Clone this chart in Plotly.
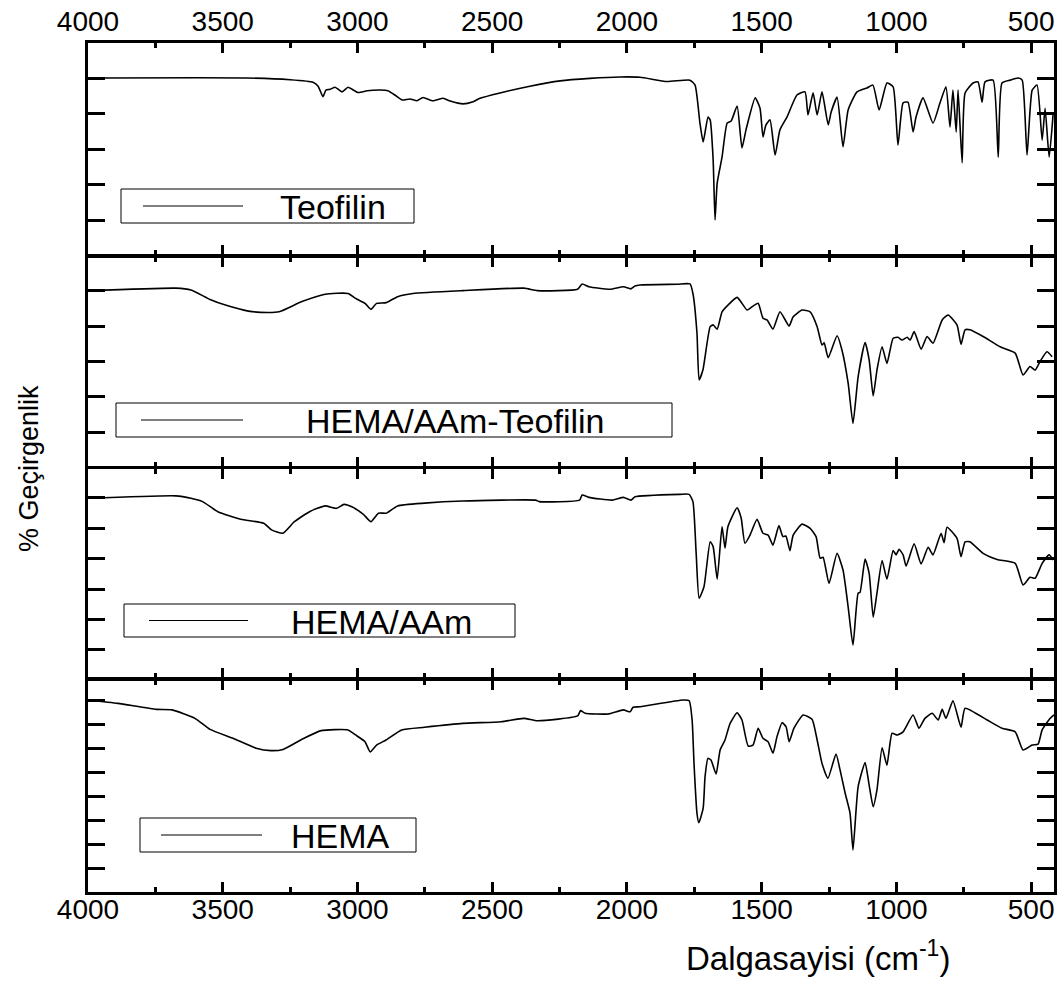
import plotly.graph_objects as go

# ---------------- data (wavenumber cm-1, transmittance a.u.) ----------------
teo_wn = [4000, 3410, 3250, 3165, 3146, 3128, 3117, 3102, 3083, 3057,
          3035, 2998, 2964, 2916, 2887, 2861, 2835, 2805, 2779, 2757,
          2720, 2682, 2656, 2608, 2571, 2545, 2471, 2360, 2248, 2137,
          2026, 1951, 1851, 1766, 1747, 1729, 1717, 1699, 1691, 1680,
          1673, 1665, 1647, 1628, 1613, 1591, 1573, 1558, 1524, 1506,
          1495, 1484, 1469, 1450, 1432, 1406, 1369, 1339, 1328, 1309,
          1294, 1276, 1253, 1242, 1220, 1198, 1179, 1146, 1109, 1087,
          1064, 1035, 1012, 994, 975, 957, 938, 927, 901, 864,
          838, 816, 801, 790, 778, 771, 756, 745, 715, 697,
          682, 671, 641, 622, 608, 578, 548, 533, 515, 496,
          478, 459, 448, 433, 418]
teo_T = [60, 60, 59.5, 58.8, 57.7, 54.7, 56.6, 56.8, 57.4, 56.1,
         57.4, 55.9, 56.4, 56.6, 56.4, 55.2, 53.8, 54.1, 53.6, 54.5,
         53.6, 54.3, 53.5, 52.7, 53.3, 54.3, 55.8, 57.7, 59.2, 59.9,
         60.3, 60.2, 59, 59.4, 58, 47.3, 42, 49, 48.2, 37,
         20, 30.4, 37.7, 47.3, 47.9, 52.1, 40.3, 45.4, 54.4, 51.5,
         43.4, 46.8, 48.2, 38.3, 45.4, 49, 55.2, 56.1, 49.6, 55.8,
         49.6, 56.1, 46.8, 50.4, 54.6, 40.6, 51, 56.1, 57.2, 58,
         51, 58.6, 57.5, 41.1, 53, 53.2, 44.8, 49, 54.4, 47.3,
         53, 57.5, 46.2, 56.6, 44.8, 56.6, 36.1, 55.8, 58.6, 58.9,
         53.2, 58.9, 59.4, 37.7, 58.6, 59.4, 60, 59.4, 38.3, 56.6,
         58, 42.5, 51.5, 37.7, 50.1]

hat_wn = [4000, 3674, 3618, 3547, 3490, 3405, 3334, 3291, 3206, 3120,
          3035, 3007, 2972, 2950, 2929, 2893, 2851, 2794, 2609, 2382,
          2332, 2183, 2166, 2141, 2063, 2013, 1985, 1970, 1951, 1814,
          1766, 1755, 1740, 1732, 1718, 1691, 1680, 1665, 1647, 1625,
          1591, 1554, 1536, 1513, 1495, 1480, 1458, 1432, 1398, 1383,
          1350, 1320, 1294, 1276, 1268, 1253, 1220, 1202, 1179, 1161,
          1142, 1116, 1101, 1086, 1072, 1053, 1035, 1012, 994, 979,
          960, 949, 934, 908, 886, 864, 830, 808, 775, 760,
          745, 727, 678, 615, 559, 530, 504, 485, 467, 441,
          422]
hat_T = [60.1, 60.8, 60.3, 57.6, 56, 54.3, 53.9, 54.1, 57, 59.1,
         59.3, 57.9, 56.5, 54.8, 56.5, 56.7, 58.4, 59.3, 60.1, 60.8,
         60.1, 60.5, 62, 61.2, 60.5, 61.2, 60.6, 61.4, 61.7, 61.9,
         62, 59.3, 48.1, 34.8, 37.6, 49.9, 50.4, 49.2, 54.1, 56,
         58.2, 54.6, 55.5, 56.5, 52.3, 51.8, 49.2, 54.1, 50.1, 52.7,
         54.6, 54.1, 49.9, 44.7, 45.3, 41.1, 47.3, 43.3, 33.9, 22.5,
         35.7, 45.4, 40.5, 30.3, 37.6, 44.2, 39.5, 46.6, 46.9, 46.1,
         46.9, 46.1, 48.5, 43.5, 47.1, 45.2, 51.8, 53.2, 50.4, 44.9,
         49, 49, 47.1, 44.2, 42.4, 36.2, 38.6, 37.6, 40, 42.8,
         41.4]

ha_wn = [4000, 3674, 3618, 3575, 3518, 3433, 3348, 3319, 3277, 3234,
         3178, 3120, 3078, 3050, 3021, 2979, 2950, 2922, 2893, 2851,
         2751, 2609, 2339, 2325, 2176, 2166, 2141, 2055, 2013, 1985,
         1970, 1803, 1769, 1755, 1743, 1732, 1714, 1691, 1680, 1665,
         1647, 1636, 1625, 1591, 1576, 1562, 1543, 1517, 1495, 1476,
         1458, 1436, 1421, 1410, 1395, 1383, 1350, 1320, 1298, 1283,
         1272, 1250, 1220, 1198, 1179, 1161, 1142, 1135, 1116, 1101,
         1086, 1072, 1053, 1035, 1012, 1001, 990, 975, 964, 934,
         908, 882, 864, 834, 823, 812, 775, 760, 745, 727,
         678, 626, 559, 530, 504, 485, 459, 433, 418]
ha_T = [69.9, 70.7, 69.9, 68.8, 65.5, 63, 61.7, 59.5, 58.4, 62.2,
        65.5, 67.4, 66.6, 67.9, 67.1, 64.7, 62.2, 65, 65, 67.4,
        68.3, 69, 69.3, 68.8, 69.3, 71, 70.2, 69.3, 70.2, 69.3,
        70.4, 71.2, 71.2, 68.8, 51.8, 37, 40.8, 55.6, 54, 43.3,
        60.6, 53.5, 60.6, 66.8, 63.4, 55.1, 57.8, 63, 58.4, 57.8,
        54.5, 60.9, 57.3, 57.5, 52.7, 57.8, 61.4, 60, 57.3, 50.2,
        50.5, 41.9, 51.8, 46.3, 34.2, 21.6, 38.7, 38.9, 49.9, 45.2,
        30.8, 38.7, 49.4, 43.3, 52.7, 51.3, 53.1, 51.3, 47.6, 54.9,
        48.3, 53.8, 51.3, 58.4, 55.3, 60.4, 56.7, 50.7, 55.6, 55.6,
        51.8, 49.8, 48.5, 41.4, 43.9, 43.6, 48.5, 51.3, 49.6]

hema_wn = [4000, 3889, 3746, 3688, 3603, 3547, 3462, 3376, 3321, 3276,
           3206, 3135, 3035, 3007, 2972, 2953, 2929, 2894, 2836, 2751,
           2609, 2467, 2382, 2332, 2183, 2172, 2155, 2070, 2013, 1988,
           1977, 1951, 1792, 1769, 1758, 1751, 1740, 1733, 1717, 1710,
           1699, 1688, 1669, 1654, 1636, 1617, 1591, 1573, 1550, 1532,
           1513, 1495, 1476, 1458, 1443, 1424, 1409, 1398, 1380, 1346,
           1313, 1294, 1276, 1254, 1224, 1209, 1190, 1172, 1161, 1142,
           1116, 1101, 1086, 1072, 1053, 1035, 1016, 997, 975, 938,
           916, 894, 867, 845, 830, 816, 790, 760, 745, 663,
           608, 559, 530, 496, 474, 459, 429, 415]
hema_T = [80, 78.6, 76.1, 75.9, 72.4, 67.8, 64.1, 60, 59, 59.5,
          63.7, 67.3, 67.6, 65.5, 62.7, 58.5, 61.3, 63.4, 67.6, 68.7,
          70.3, 71, 72.4, 71.4, 73.4, 75.6, 74.5, 74.2, 75.9, 75.1,
          77, 77.2, 80, 79.7, 71.7, 53.7, 33, 29.1, 35.1, 48.2,
          55.8, 55.1, 49.3, 59.3, 63.4, 70.3, 74.7, 71.7, 60.9, 61.3,
          68.3, 64.1, 62.7, 57.9, 64.8, 70.6, 68.8, 62.7, 68.3, 73.8,
          72, 63.4, 53.7, 47.5, 57.6, 51, 41.3, 33.1, 17.8, 44,
          54, 44.7, 35.7, 42.7, 60.2, 53, 66.2, 65.5, 66.8, 73.8,
          68.3, 72.4, 74.5, 71.7, 76.1, 72.4, 79.7, 68.7, 76.6, 71.7,
          68.3, 66.8, 59.3, 61.3, 61.7, 67.6, 72.4, 73.8]

names = ["Teofilin", "HEMA/AAm-Teofilin", "HEMA/AAm", "HEMA"]
series_wn = [teo_wn, hat_wn, ha_wn, hema_wn]
series_T = [teo_T, hat_T, ha_T, hema_T]

x_ticks = [4000, 3500, 3000, 2500, 2000, 1500, 1000, 500]
y_ticks = [[20, 30, 40, 50, 60], [20, 30, 40, 50, 60],
           [20, 30, 40, 50, 60, 70], [10, 20, 30, 40, 50, 60, 70, 80]]
y_ranges = [[10.21, 69.79], [10.35, 69.56], [10.87, 79.62], [0.44, 88.2]]
x_range = [4000, 415]

# ---------------- figure ----------------
W, H = 1062, 981
ML, MR, MT, MB = 88, 8, 42, 88
LW = 2.5
FONT = "Liberation Sans, Arial, Helvetica, sans-serif"


def px2x(px):
    return (px - ML) / (W - ML - MR)


def py2y(py):
    return (H - MB - py) / (H - MT - MB)


# panel extents in screen px (frame lines drawn just outside them)
panel_px = [(43.25, 254.75), (257.25, 466.25), (468.75, 677.75), (680.25, 891.75)]
domains = [[py2y(b), py2y(t)] for (t, b) in panel_px]

fig = go.Figure()
for i in range(4):
    k = "" if i == 0 else str(i + 1)
    fig.add_trace(go.Scatter(x=series_wn[i], y=series_T[i], mode="lines",
                             line=dict(color="black", width=1.6,
                                       shape="spline", smoothing=0.5),
                             name=names[i], showlegend=False,
                             xaxis="x" + k, yaxis="y" + k))
    xa = dict(domain=[0, 1], range=x_range, anchor="y" + k,
              showline=True, linecolor="black", linewidth=LW, mirror="ticks",
              ticks="inside", ticklen=10, tickwidth=2.5, tickcolor="black",
              tickvals=x_ticks,
              minor=dict(ticks="inside", ticklen=5, tickwidth=2.5,
                         tickcolor="black", tick0=0, dtick=250),
              showgrid=False, zeroline=False, automargin=False,
              showticklabels=False)
    ya = dict(domain=domains[i], range=y_ranges[i], anchor="x" + k,
              showline=True, linecolor="black", linewidth=LW, mirror="ticks",
              ticks="inside", ticklen=17, tickwidth=2.5, tickcolor="black",
              tickvals=y_ticks[i], showticklabels=False, automargin=False,
              showgrid=False, zeroline=False)
    fig.layout["xaxis" + k] = xa
    fig.layout["yaxis" + k] = ya

# label-only axes for the top and bottom tick labels (carry a transparent copy
# of the first / last spectrum so that they are drawn)
label_axes = [("xaxis5", "x", "y", 0, "top", 1.0, 5),
              ("xaxis6", "x4", "y4", 3, "bottom", py2y(889.5), 0)]
for name, base, yax, idx, side, pos, standoff in label_axes:
    fig.add_trace(go.Scatter(x=series_wn[idx], y=series_T[idx], mode="lines",
                             line=dict(color="rgba(0,0,0,0)", width=0),
                             hoverinfo="skip", showlegend=False,
                             xaxis="x" + name[-1], yaxis=yax))
    fig.layout[name] = dict(overlaying=base, anchor="free", position=pos,
                            side=side, range=x_range, showline=False,
                            ticks="", tickvals=x_ticks,
                            ticktext=[str(v) for v in x_ticks],
                            ticklabelstandoff=standoff,
                            showgrid=False, zeroline=False, automargin=False,
                            tickfont=dict(family=FONT, size=28, color="black"))

# legend boxes (one per panel): box, sample line, label
legend_boxes = [  # (left, right, top, bottom, line_x0, line_x1, text_center) in px
    (121, 414, 189, 223, 143, 243, 333),
    (116, 672, 403, 437, 141, 243, 455),
    (124, 515, 604, 637, 149, 248, 381),
    (140, 416, 818, 852, 161, 262, 340),
]
shapes = []
annotations = []
for i, (l, r, t, b, lx0, lx1, tc) in enumerate(legend_boxes):
    shapes.append(dict(type="rect", xref="paper", yref="paper",
                       x0=px2x(l), x1=px2x(r), y0=py2y(b), y1=py2y(t),
                       line=dict(color="black", width=1), fillcolor="white"))
    ym = (t + b) / 2
    shapes.append(dict(type="line", xref="paper", yref="paper",
                       x0=px2x(lx0), x1=px2x(lx1), y0=py2y(ym), y1=py2y(ym),
                       line=dict(color="black", width=1)))
    annotations.append(dict(text=names[i], xref="paper", yref="paper",
                            x=px2x(tc), y=py2y(ym + 1), xanchor="center",
                            yanchor="middle", showarrow=False,
                            font=dict(family=FONT, size=34, color="black")))

annotations.append(dict(text="Dalgasayisi (cm<sup>-1</sup>)", xref="paper",
                        yref="paper", x=px2x(818), y=py2y(956),
                        xanchor="center", yanchor="middle", showarrow=False,
                        font=dict(family=FONT, size=33, color="black")))
annotations.append(dict(text="% Geçirgenlik", xref="paper", yref="paper",
                        x=px2x(29), y=py2y(469), textangle=-90,
                        xanchor="center", yanchor="middle", showarrow=False,
                        font=dict(family=FONT, size=27, color="black")))

fig.update_layout(width=W, height=H, margin=dict(l=ML, r=MR, t=MT, b=MB),
                  paper_bgcolor="white", plot_bgcolor="white",
                  shapes=shapes, annotations=annotations, showlegend=False)

fig.write_html("out.html")
